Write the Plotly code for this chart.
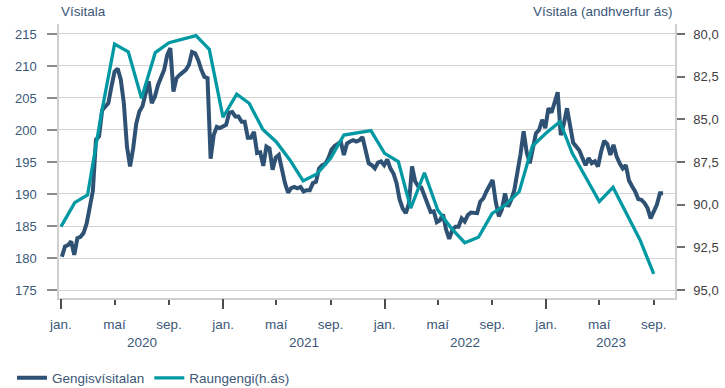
import pandas as pd
import plotly.graph_objects as go

# Gengisvísitalan, weekly readings (Fridays) from January 2020
gengi = [
    180.2, 181.8, 182.0, 182.6, 180.5, 183.1, 183.3, 183.9, 185.4, 187.8,
    190.5, 198.5, 199.0, 203.1, 203.6, 204.2, 206.8, 209.1, 209.6, 207.9,
    204.2, 197.4, 194.3, 197.1, 201.0, 202.9, 203.7, 205.7, 207.6, 204.2,
    205.2, 207.0, 208.1, 209.4, 211.7, 212.8, 206.0, 208.1, 208.6, 209.0,
    209.4, 210.2, 212.2, 212.0, 210.9, 209.4, 208.3, 208.1, 195.5, 199.2,
    200.5, 200.3, 200.5, 200.8, 202.7, 202.8, 202.1, 202.1, 201.3, 201.3,
    198.8, 198.8, 199.7, 196.4, 196.5, 194.4, 197.4, 197.1, 193.8, 195.7,
    196.1, 193.8, 191.7, 190.2, 190.9, 191.1, 190.9, 191.1, 190.4, 190.6,
    190.6, 191.7, 191.9, 194.0, 194.5, 194.7, 195.6, 196.9, 197.5, 197.8,
    198.2, 196.1, 197.9, 198.2, 198.4, 198.2, 198.4, 198.9, 196.6, 194.8,
    194.5, 194.0, 194.9, 195.1, 194.5, 195.4, 194.0, 193.2, 191.7, 189.1,
    187.7, 187.0, 188.5, 194.3, 192.0, 191.2, 191.0, 189.8, 188.6, 187.2,
    187.3, 185.6, 185.9, 186.8, 184.4, 183.0, 184.4, 184.9, 184.9, 186.2,
    185.7, 186.7, 187.1, 187.0, 187.0, 188.8, 189.3, 190.4, 191.4, 192.2,
    188.8, 186.5, 187.6, 190.1, 188.0, 189.1, 190.6, 193.2, 196.2, 199.8,
    196.5, 194.8, 197.1, 199.5, 200.0, 201.6, 200.3, 203.4, 202.7, 204.4,
    205.9, 199.2, 201.0, 203.4, 200.5, 198.0, 197.4, 196.8, 195.6, 194.5,
    195.6, 194.8, 195.1, 194.3, 196.6, 198.3, 197.8, 196.1, 197.7, 195.9,
    194.8, 194.0, 194.5, 192.1, 191.2, 190.4, 189.2, 189.1, 188.6, 187.8,
    186.2, 187.2, 188.3, 190.1, 190.1,
]

# Raungengi, monthly values (right axis, inverted)
raungengi = [
    91.29, 89.88, 89.43, 84.70, 80.59, 81.04, 83.77, 81.09, 80.51, 80.30, 80.10, 80.90,
    84.88, 83.52, 84.06, 85.59, 86.31, 87.38, 88.61, 88.20, 87.29, 85.92, 85.78, 85.66,
    86.99, 87.48, 90.20, 88.13, 90.31, 91.39, 92.23, 91.91, 90.51, 90.02, 89.24, 86.56,
    85.80, 85.14, 86.99, 88.46, 89.82, 88.98, 90.51, 92.07, 94.06,
]

week_dates = pd.date_range("2020-01-03", periods=len(gengi), freq="7D")
month_dates = pd.date_range("2020-01-01", periods=len(raungengi), freq="MS")

years = [2020, 2021, 2022, 2023]
month_ticks = [f"{y}-{m:02d}-01" for y in years for m in (1, 5, 9)]
month_text = ["jan.", "maí", "sep."] * len(years)
jan_ticks = [f"{y}-01-01" for y in years]

x_start, x_end = "2019-12-27 12:00", "2023-10-19"
year_pos = ["2020-07-02", "2021-07-02", "2022-07-02",
            str(pd.Timestamp("2023-01-01") + (pd.Timestamp(x_end) - pd.Timestamp("2023-01-01")) / 2)]

left_ticks = [175, 180, 185, 190, 195, 200, 205, 210, 215]
right_ticks = [80, 82.5, 85, 87.5, 90, 92.5, 95]
right_text = ["80,0", "82,5", "85,0", "87,5", "90,0", "92,5", "95,0"]

DARK = "#2f5274"
TEAL = "#0099a3"
SLATE = "#3b5878"
FONT = "Liberation Sans, Arial, sans-serif"

fig = go.Figure()
fig.add_trace(go.Scatter(x=week_dates, y=gengi, name="Gengisvísitalan", mode="lines",
                         line=dict(color=DARK, width=4), xaxis="x", yaxis="y"))
fig.add_trace(go.Scatter(x=month_dates, y=raungengi, name="Raungengi(h.ás)", mode="lines",
                         line=dict(color=TEAL, width=3.3), xaxis="x2", yaxis="y2"))

fig.update_layout(
    width=725, height=388,
    margin=dict(l=59, r=50, t=24, b=90, autoexpand=False),
    paper_bgcolor="white", plot_bgcolor="white",
    font=dict(family=FONT, size=13, color=SLATE),
    xaxis=dict(
        type="date", range=[x_start, x_end], automargin=False,
        tickmode="array", tickvals=month_ticks, ticktext=month_text,
        ticks="outside", ticklen=5, tickwidth=1.5, tickcolor="#4d4d4d",
        tickfont=dict(size=13.5, color=SLATE), ticklabelstandoff=8,
        showgrid=False, zeroline=False,
        showline=True, linecolor="#cfcfcf", linewidth=1.5,
    ),
    xaxis2=dict(
        type="date", overlaying="x", matches="x", anchor="y", side="bottom",
        tickmode="array", tickvals=jan_ticks, showticklabels=False,
        ticks="outside", ticklen=10, tickwidth=1.5, tickcolor="#4d4d4d",
        showgrid=False, zeroline=False, showline=False,
    ),
    yaxis=dict(
        range=[173.75, 216.56], tickmode="array", tickvals=left_ticks, automargin=False,
        ticks="outside", ticklen=10, tickwidth=1.5, tickcolor="#8c8c8c",
        tickfont=dict(size=13, color=SLATE), ticklabelstandoff=8,
        showgrid=True, gridcolor="#d4d4d4", gridwidth=1.2, zeroline=False,
        showline=True, linecolor="#cfcfcf", linewidth=1.5,
    ),
    yaxis2=dict(
        overlaying="y", side="right", anchor="x", automargin=False,
        range=[95.47, 79.414], tickmode="array", tickvals=right_ticks, ticktext=right_text,
        ticks="outside", ticklen=8, tickwidth=1.5, tickcolor="#6e6e6e",
        tickfont=dict(size=13, color="#404040"), ticklabelstandoff=6,
        showgrid=False, zeroline=False,
        showline=True, linecolor="#cfcfcf", linewidth=1.5,
    ),
    legend=dict(
        orientation="h", x=-0.0763, xanchor="left", y=-0.292, yanchor="middle",
        font=dict(size=13.5, color=SLATE), bgcolor="rgba(0,0,0,0)",
    ),
    showlegend=True,
)

for label, pos in zip(years, year_pos):
    fig.add_annotation(x=pos, xref="x", y=-0.1606, yref="paper", text=str(label),
                       showarrow=False, xanchor="center", yanchor="middle",
                       font=dict(size=13.5, color=SLATE))

fig.add_annotation(x=0, xref="paper", y=1.0438, yref="paper", text="Vísitala",
                   showarrow=False, xanchor="left", yanchor="middle",
                   font=dict(size=13.5, color=SLATE))
fig.add_annotation(x=1, xref="paper", y=1.0438, yref="paper", text="Vísitala (andhverfur ás)",
                   showarrow=False, xanchor="right", yanchor="middle",
                   font=dict(size=13.5, color=SLATE))

fig.write_html("out.html")
